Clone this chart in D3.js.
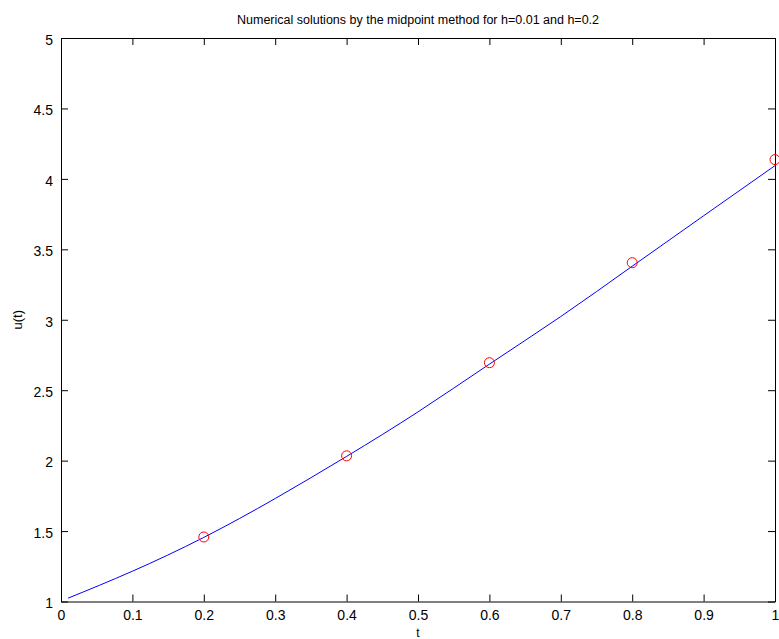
<!DOCTYPE html>
<html><head><meta charset="utf-8">
<script src="https://cdn.jsdelivr.net/npm/d3@7"></script>
<style>body{margin:0;background:#fff}svg{display:block}text{font-family:"Liberation Sans",Arial,sans-serif;fill:#000}</style>
</head><body>
<script>
const lineT = [0.01, 0.1, 0.2, 0.3, 0.4, 0.5, 0.6, 0.7, 0.8, 0.9, 1.0];
const lineU = [1.024, 1.215, 1.455, 1.731, 2.03, 2.346, 2.685, 3.023, 3.38, 3.738, 4.094];
const ptT = [0.2, 0.4, 0.6, 0.8, 1.0];
const ptU = [1.458, 2.034, 2.695, 3.405, 4.137];
const xTicks = [0, 0.1, 0.2, 0.3, 0.4, 0.5, 0.6, 0.7, 0.8, 0.9, 1];
const yTicks = [1, 1.5, 2, 2.5, 3, 3.5, 4, 4.5, 5];
const title = "Numerical solutions by the midpoint method for h=0.01 and h=0.2";

const W = 779, H = 639;
const L = 61, R = 775, T = 38, B = 601.5;
const svg = d3.select("body").append("svg").attr("width", W).attr("height", H);
const x = d3.scaleLinear().domain([0, 1]).range([L, R]);
const y = d3.scaleLinear().domain([1, 5]).range([B, T]);

const g = svg.append("g");
const tl = 7;
const xb = g.append("g").attr("transform", `translate(0,${B})`).call(d3.axisBottom(x).tickValues(xTicks).tickFormat(d3.format("")).tickSizeInner(-tl).tickSizeOuter(0).tickPadding(9));
const xt = g.append("g").attr("transform", `translate(0,${T})`).call(d3.axisTop(x).tickValues(xTicks).tickFormat("").tickSizeInner(-tl).tickSizeOuter(0));
const yl = g.append("g").attr("transform", `translate(${L},0)`).call(d3.axisLeft(y).tickValues(yTicks).tickFormat(d3.format("")).tickSizeInner(-tl).tickSizeOuter(0).tickPadding(8));
const yr = g.append("g").attr("transform", `translate(${R},0)`).call(d3.axisRight(y).tickValues(yTicks).tickFormat("").tickSizeInner(-tl).tickSizeOuter(0));
[xb, xt, yl, yr].forEach(a => {
  a.selectAll("path.domain").attr("stroke", "#000").attr("stroke-width", 1);
  a.selectAll(".tick line").attr("stroke", "#000").attr("stroke-width", 1);
  a.selectAll("text").style("font-size", "14px").attr("fill", "#000").style("font-family", '"Liberation Sans",Arial,sans-serif');
});
yl.selectAll("text").attr("dy", "0.45em");

const data = lineT.map((t, i) => [t, lineU[i]]);
svg.append("path").datum(data)
  .attr("fill", "none").attr("stroke", "#0000ff").attr("stroke-width", 1)
  .attr("d", d3.line().x(d => x(d[0])).y(d => y(d[1])).curve(d3.curveNatural));

svg.append("g").selectAll("circle").data(ptT.map((t, i) => [t, ptU[i]])).join("circle")
  .attr("cx", d => x(d[0])).attr("cy", d => y(d[1])).attr("r", 5)
  .attr("fill", "none").attr("stroke", "#ff0000").attr("stroke-width", 1);

svg.append("text").attr("x", (L + R) / 2).attr("y", 24).attr("text-anchor", "middle")
  .style("font-size", "12.5px").text(title);
svg.append("text").attr("x", (L + R) / 2).attr("y", 637).attr("text-anchor", "middle")
  .style("font-size", "12px").text("t");
svg.append("text").attr("transform", `translate(22,${(T + B) / 2}) rotate(-90)`).attr("text-anchor", "middle")
  .style("font-size", "13px").text("u(t)");
</script>
</body></html>
